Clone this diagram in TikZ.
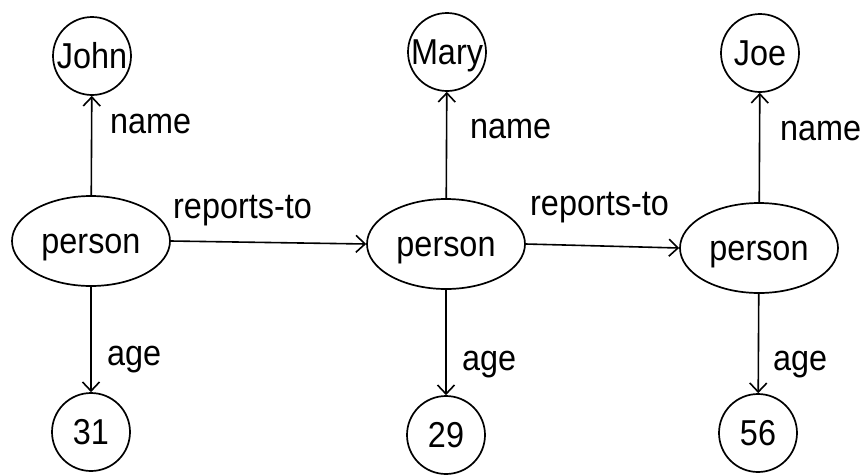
\documentclass[tikz,border=0pt]{standalone}
\usepackage{fontspec}
\setmainfont[FakeStretch=0.9]{Liberation Sans}
\usetikzlibrary{shapes.geometric,arrows.meta}
\begin{document}
\begin{tikzpicture}[x=1pt,y=-1pt,
  txt/.style={font=\fontsize{36}{40}\selectfont},
  valnode/.style={circle,draw,line width=1.7pt,minimum size=78pt,inner sep=0pt,text height=25.8pt,text depth=0pt,txt},
  entnode/.style={ellipse,draw,line width=1.7pt,minimum width=158pt,minimum height=90pt,inner sep=0pt,text height=25.8pt,text depth=0pt,txt},
  edge/.style={line width=1.6pt,-{Straight Barb[length=9pt,width=17pt,line width=1.6pt]}},
  lab/.style={anchor=base west,inner sep=0pt,txt}]
\useasboundingbox (0,0) rectangle (867,475);
\node[valnode] (john) at (92,56) {John};
\node[valnode] (mary) at (447,52) {Mary};
\node[valnode] (joe) at (760,53) {Joe};
\node[entnode] (p1) at (91,241) {person};
\node[entnode] (p2) at (446,244) {person};
\node[entnode] (p3) at (759,248) {person};
\node[valnode] (v31) at (91,432) {31};
\node[valnode] (v29) at (446,435) {29};
\node[valnode] (v56) at (758,433) {56};
\draw[edge] (p1) -- (john);
\draw[edge] (p2) -- (mary);
\draw[edge] (p3) -- (joe);
\draw[edge] (p1) -- (v31);
\draw[edge] (p2) -- (v29);
\draw[edge] (p3) -- (v56);
\draw[edge] (p1.east) -- (p2.west);
\draw[edge] (p2.east) -- (p3.west);
\node[lab] (n1) at (110,133) {name};
\node[lab] (n2) at (470,138) {name};
\node[lab] (n3) at (780,140) {name};
\node[lab] (r1) at (173,218) {reports-to};
\node[lab] (r2) at (530,215) {reports-to};
\node[lab] (a1) at (107,365) {age};
\node[lab] (a2) at (462,370) {age};
\node[lab] (a3) at (773,370) {age};
\end{tikzpicture}
\end{document}
